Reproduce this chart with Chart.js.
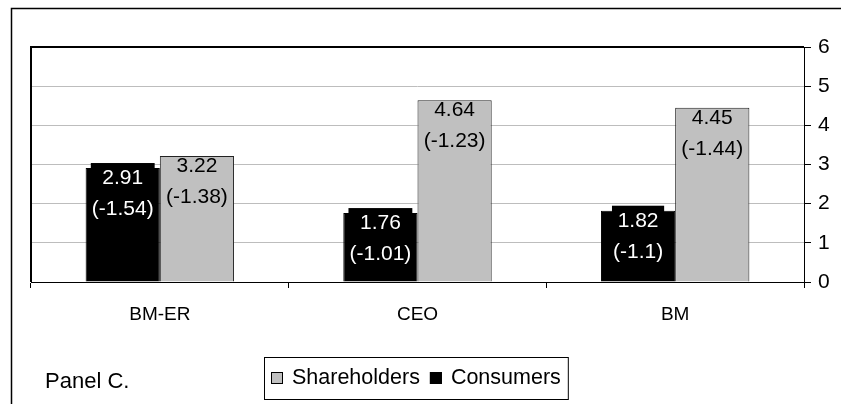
<!DOCTYPE html>
<html>
<head>
<meta charset="utf-8">
<script src="https://cdn.jsdelivr.net/npm/chart.js@4.4.1/dist/chart.umd.min.js"></script>
<style>
  html, body { margin: 0; padding: 0; background: #fff; }
  #wrap { width: 841px; height: 404px; }
</style>
</head>
<body>
<div id="wrap"><canvas id="chart" width="841" height="404"></canvas></div>
<script>
// data
const categories = ['BM-ER', 'CEO', 'BM'];
const consumers = [2.91, 1.76, 1.82];
const consumersSub = ['(-1.54)', '(-1.01)', '(-1.1)'];
const shareholders = [3.22, 4.64, 4.45];
const shareholdersSub = ['(-1.38)', '(-1.23)', '(-1.44)'];
const yTicks = [0, 1, 2, 3, 4, 5, 6];
const legendOrder = ['Shareholders', 'Consumers'];
const panelTitle = 'Panel C.';

const FONT = '"Liberation Sans", Arial, sans-serif';
const GRAY = '#c0c0c0';

// outer frame + plot area border (top and left)
const framePlugin = {
    id: 'frame',
    beforeDraw(chart) {
        const ctx = chart.ctx;
        ctx.save();
        ctx.strokeStyle = '#000';
        ctx.lineWidth = 1.5;
        ctx.strokeRect(11.5, 8.5, 900, 500);
        ctx.restore();
    },
    beforeDatasetsDraw(chart) {
        const ctx = chart.ctx, a = chart.chartArea;
        ctx.save();
        ctx.strokeStyle = '#000';
        ctx.lineWidth = 2;
        ctx.beginPath();
        ctx.moveTo(a.left, a.bottom);
        ctx.lineTo(a.left, a.top);
        ctx.lineTo(a.right, a.top);
        ctx.stroke();
        ctx.restore();
    }
};

// two-line value labels inside the bars
const labelPlugin = {
    id: 'barLabels',
    afterDatasetsDraw(chart) {
        const ctx = chart.ctx;
        const subs = [consumersSub, shareholdersSub];
        ctx.save();
        ctx.font = '21px ' + FONT;
        ctx.textAlign = 'center';
        ctx.textBaseline = 'middle';
        chart.data.datasets.forEach((ds, i) => {
            const meta = chart.getDatasetMeta(i);
            meta.data.forEach((bar, j) => {
                const l1 = String(ds.data[j]);
                const l2 = subs[i][j];
                const y1 = bar.y + 10, y2 = bar.y + 41;
                if (i === 0) {
                    const w = Math.max(ctx.measureText(l1).width, ctx.measureText(l2).width) + 2;
                    ctx.fillStyle = '#000';
                    ctx.fillRect(bar.x - w / 2, bar.y - 5, w, 60);
                    ctx.fillStyle = '#fff';
                } else {
                    ctx.fillStyle = '#000';
                }
                ctx.fillText(l1, bar.x, y1);
                ctx.fillText(l2, bar.x, y2);
            });
        });
        ctx.restore();
    }
};

// boxed legend and panel caption
const legendPlugin = {
    id: 'boxLegend',
    afterDraw(chart) {
        const ctx = chart.ctx;
        ctx.save();
        ctx.font = '22px ' + FONT;
        ctx.textBaseline = 'middle';
        ctx.fillStyle = '#000';
        ctx.fillText(panelTitle, 45, 382);

        ctx.font = '21.5px ' + FONT;
        const colors = { Shareholders: GRAY, Consumers: '#000' };
        const sq = 12, gapTxt = 9, gapItem = 10, padX = 7;
        let w = padX * 2;
        legendOrder.forEach((t, k) => {
            w += sq + gapTxt + ctx.measureText(t).width + (k ? gapItem : 0);
        });
        const left = Math.round(416 - w / 2), top = 357, h = 42, cy = 378;
        ctx.lineWidth = 1;
        ctx.strokeStyle = '#000';
        ctx.strokeRect(left + 0.5, top + 0.5, w, h);
        let x = left + padX;
        legendOrder.forEach((t, k) => {
            if (k) x += gapItem;
            ctx.fillStyle = colors[t];
            ctx.fillRect(x, cy - 6, sq, sq);
            ctx.strokeStyle = '#000';
            ctx.strokeRect(x + 0.5, cy - 5.5, sq - 1, sq - 1);
            x += sq + gapTxt;
            ctx.fillStyle = '#000';
            ctx.fillText(t, x, cy);
            x += ctx.measureText(t).width;
        });
        ctx.restore();
    }
};

new Chart(document.getElementById('chart'), {
    type: 'bar',
    data: {
        labels: categories,
        datasets: [
            {
                label: 'Consumers',
                data: consumers,
                backgroundColor: '#000',
                borderColor: '#000',
                borderWidth: 1
            },
            {
                label: 'Shareholders',
                data: shareholders,
                backgroundColor: GRAY,
                borderColor: '#222',
                borderWidth: 1
            }
        ]
    },
    options: {
        responsive: false,
        animation: false,
        devicePixelRatio: 1,
        categoryPercentage: 0.576,
        barPercentage: 1,
        layout: { padding: { left: 31, top: 47, right: 0, bottom: 0 } },
        plugins: { legend: { display: false }, tooltip: { enabled: false } },
        scales: {
            x: {
                offset: true,
                grid: { offset: true, drawOnChartArea: false, drawTicks: true, tickLength: 6, color: '#000' },
                border: { color: '#000', width: 1 },
                ticks: { color: '#000', font: { family: FONT, size: 19 }, padding: 15 },
                afterFit: s => { s.height = 122; }
            },
            y: {
                position: 'right',
                min: 0,
                max: 6,
                afterBuildTicks: s => { s.ticks = yTicks.map(v => ({ value: v })); },
                grid: { color: '#bdbdbd', tickColor: '#000', tickLength: 7 },
                border: { color: '#000', width: 1 },
                ticks: { color: '#000', font: { family: FONT, size: 21 }, padding: 7 },
                afterFit: s => { s.width = 37; }
            }
        }
    },
    plugins: [framePlugin, labelPlugin, legendPlugin]
});
</script>
</body>
</html>
